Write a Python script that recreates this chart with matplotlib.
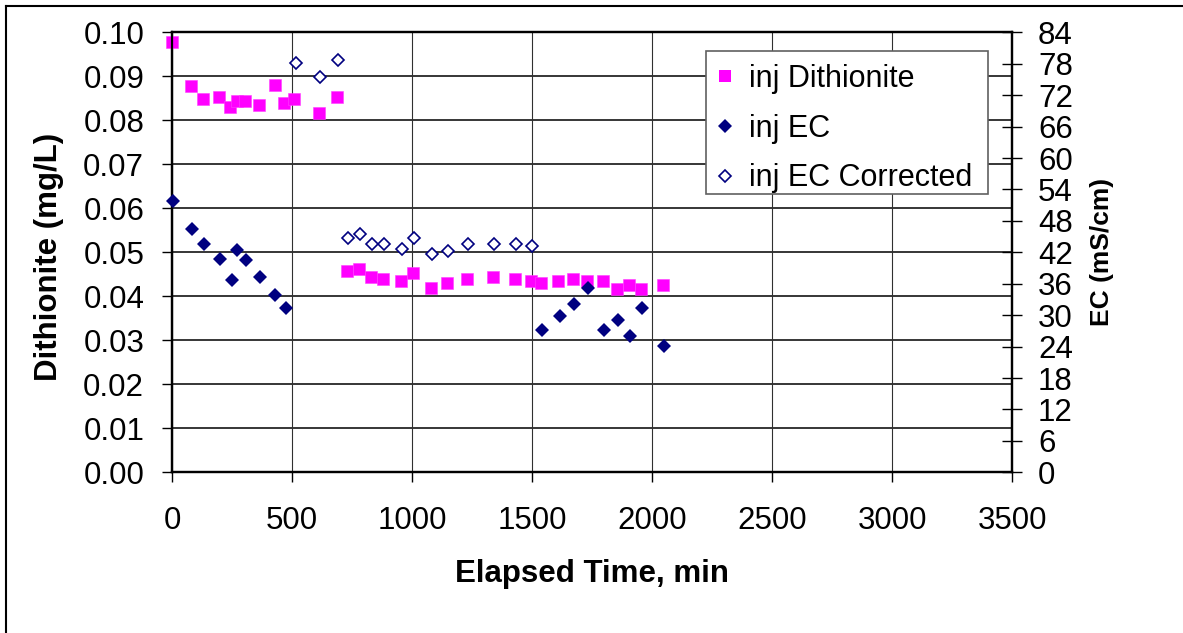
import matplotlib
matplotlib.use("Agg")
import matplotlib.pyplot as plt
from matplotlib.lines import Line2D
from matplotlib.patches import Rectangle

plt.rcParams["font.family"] = ["Liberation Sans", "DejaVu Sans"]

# -------------------------------------------------
# Data
# -------------------------------------------------
# injection dithionite (left axis, mg/L)
dith_time = [0, 78, 128, 195, 243, 270, 304, 361, 428, 468, 510, 612, 687,
             728, 778, 828, 878, 953, 1004, 1079, 1144, 1228, 1336, 1429,
             1495, 1537, 1608, 1671, 1729, 1796, 1852, 1904, 1953, 2044]
dith_conc = [0.0979, 0.0879, 0.0848, 0.0852, 0.0830, 0.0844, 0.0844, 0.0834,
             0.0880, 0.0839, 0.0848, 0.0816, 0.0852,
             0.0457, 0.0461, 0.0443, 0.0439, 0.0434, 0.0452, 0.0420, 0.0430,
             0.0439, 0.0443, 0.0439, 0.0434, 0.0430, 0.0435, 0.0439, 0.0434,
             0.0435, 0.0417, 0.0426, 0.0417, 0.0426]

# injection EC (right axis, mS/cm)
ec_time = [5, 82, 132, 199, 249, 272, 309, 366, 431, 474,
           1540, 1616, 1675, 1733, 1800, 1857, 1907, 1959, 2050]
ec_val = [51.85, 46.5, 43.5, 40.8, 36.65, 42.4, 40.5, 37.3, 33.9, 31.3,
          27.1, 29.8, 32.1, 35.1, 27.2, 29.1, 26.0, 31.4, 24.05]

# injection EC corrected (right axis, mS/cm)
ecc_time = [516, 616, 691, 731, 784, 831, 883, 958, 1008, 1084, 1149,
            1233, 1341, 1433, 1500]
ecc_val = [78.2, 75.5, 78.65, 44.7, 45.5, 43.5, 43.5, 42.6, 44.7, 41.6,
           42.2, 43.5, 43.5, 43.5, 43.2]

x_ticks = [0, 500, 1000, 1500, 2000, 2500, 3000, 3500]
left_ticks = [0.00, 0.01, 0.02, 0.03, 0.04, 0.05, 0.06, 0.07, 0.08, 0.09, 0.10]
right_ticks = [0, 6, 12, 18, 24, 30, 36, 42, 48, 54, 60, 66, 72, 78, 84]

pink = "#FF00FF"
navy = "#000080"

# -------------------------------------------------
# Figure
# -------------------------------------------------
W, H = 1183, 633
fig = plt.figure(figsize=(W / 100, H / 100), dpi=100)
ax = fig.add_axes([172 / W, 1 - 472.3 / H, 840.3 / W, 440 / H])
ax2 = ax.twinx()

ax.plot(dith_time, dith_conc, "s", color=pink, ms=8, mew=0.4,
        mec="#ff40ff", label="inj Dithionite", zorder=3, clip_on=False)
ax2.plot(ec_time, ec_val, "D", color=navy, ms=6.8, mew=0,
         label="inj EC", zorder=3, clip_on=False)
ax2.plot(ecc_time, ecc_val, "D", mfc="white", mec=navy, ms=6.0, mew=1.2,
         label="inj EC Corrected", zorder=3, clip_on=False)

ax.set_xlim(0, 3500)
ax.set_ylim(0, 0.10)
ax2.set_ylim(0, 84)
ax.set_xticks(x_ticks)
ax.set_yticks(left_ticks)
ax.set_yticklabels([f"{v:.2f}" for v in left_ticks])
ax2.set_yticks(right_ticks)

# grid: black horizontals, grey verticals
for v in left_ticks:
    ax.axhline(v, color="black", lw=1.1, zorder=1)
for t in x_ticks:
    ax.axvline(t, color="#303030", lw=0.8, zorder=1)

for a in (ax, ax2):
    for spine in a.spines.values():
        spine.set_linewidth(1.6)
        spine.set_color("black")

ax.tick_params(axis="y", direction="out", length=7, width=1,
               labelsize=22.5, pad=13)
ax.tick_params(axis="x", direction="out", length=7, width=1,
               labelsize=22.5, pad=17)
ax2.tick_params(axis="y", direction="inout", length=14, width=1,
                labelsize=22.5, pad=11.5)

# axis titles
fig.text(49 / W, 1 - 257 / H, "Dithionite (mg/L)", rotation=90,
         ha="center", va="center", fontsize=22.5, fontweight="bold")
fig.text(1102 / W, 1 - 252 / H, "EC (mS/cm)", rotation=90,
         ha="center", va="center", fontsize=19, fontweight="bold")
fig.text(592 / W, 1 - 574 / H, "Elapsed Time, min",
         ha="center", va="center", fontsize=22.5, fontweight="bold")

# legend box drawn separately so the entries can sit where they do in the source
ax2.add_patch(Rectangle((706 / W, 1 - 194 / H), 282 / W, 143 / H,
                        transform=fig.transFigure, facecolor="white",
                        edgecolor="#606060", lw=1.2, zorder=4, clip_on=False))
handles = [
    Line2D([], [], ls="none", marker="s", color=pink, ms=8, mew=0),
    Line2D([], [], ls="none", marker="D", color=navy, ms=6.8, mew=0),
    Line2D([], [], ls="none", marker="D", mfc="white", mec=navy, ms=6.0,
           mew=1.2),
]
labels = ["inj Dithionite", "inj EC", "inj EC Corrected"]
leg = ax2.legend(handles, labels, loc="upper left",
                 bbox_to_anchor=((706 - 172) / 840.3, (472.3 - 57) / 440),
                 borderaxespad=0, fontsize=22, numpoints=1,
                 handlelength=0.8, handletextpad=0.4, labelspacing=0.65,
                 borderpad=0.22, frameon=False)
leg.set_zorder(5)

# chart-area border (only left and top are visible)
fig.add_artist(Line2D([6 / W, 6 / W], [0, 1 - 6 / H], transform=fig.transFigure,
                      color="black", lw=1.5))
fig.add_artist(Line2D([6 / W, 1], [1 - 6 / H, 1 - 6 / H],
                      transform=fig.transFigure, color="black", lw=1.5))

fig.savefig("out.png", dpi=100)
